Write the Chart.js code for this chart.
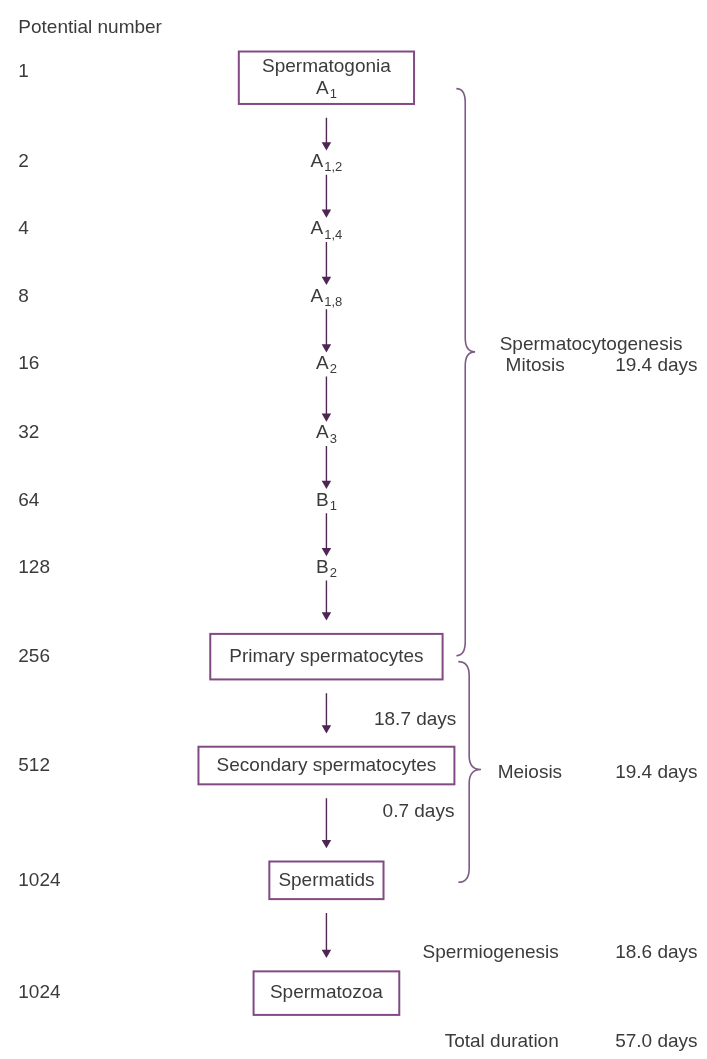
<!DOCTYPE html>
<html>
<head>
<meta charset="utf-8">
<script src="https://cdn.jsdelivr.net/npm/chart.js@4.4.1/dist/chart.umd.min.js"></script>
<style>
  html, body { margin: 0; padding: 0; background: #fff; }
  #wrap { width: 707px; height: 1059px; }
</style>
</head>
<body>
<div id="wrap"><canvas id="diagram" width="707" height="1059"></canvas></div>
<script>
// Data
const potentialNumbers = [1, 2, 4, 8, 16, 32, 64, 128, 256, 512, 1024, 1024];
const cellStages = ['Spermatogonia\nA', 'A', 'A', 'A', 'A', 'A', 'B', 'B',
    'Primary spermatocytes', 'Secondary spermatocytes', 'Spermatids', 'Spermatozoa'];
const stageSubscripts = ['1', '1,2', '1,4', '1,8', '2', '3', '1', '2', '', '', '', ''];
const phaseNames = ['Spermatocytogenesis', 'Meiosis', 'Spermiogenesis', 'Total duration'];
const phaseSubNames = ['Mitosis', '', '', ''];
const phaseDays = [19.4, 19.4, 18.6, 57.0];
const meiosisStepDays = [18.7, 0.7];

// Layout (diagram units = pixels of the original figure)
const rowY = [67, 158, 226, 294, 362, 432, 500, 568, 658, 768, 884, 998];
// [width, height, vertical offset of the box centre from the row]
const boxes = { 0: [178, 53, 6], 8: [236, 46, 0], 9: [260, 38, 0], 10: [116, 38, 0], 11: [148, 44, 0] };
const stemX = 326;
const numX = 13;

const TEXT = '#3b3b3b';
const BOX = '#824a82';
const ARROW = '#4d2652';
const BRACE = '#7e5a86';
const FONT = '"Liberation Sans", Arial, sans-serif';

function boxCenter(i) { return rowY[i] + boxes[i][2]; }
function rowTop(i) { return boxes[i] ? boxCenter(i) - boxes[i][1] / 2 : rowY[i] - 4; }
function rowBottom(i) { return boxes[i] ? boxCenter(i) + boxes[i][1] / 2 : rowY[i] + 4; }

// one small line dataset per arrow, head drawn as a rotated triangle point
const arrowDatasets = [];
for (let i = 0; i < rowY.length - 1; i++) {
    const y0 = rowBottom(i) + (boxes[i] ? 14 : 9);
    const y1 = rowTop(i + 1) - (boxes[i + 1] ? 19 : 13);
    arrowDatasets.push({
        data: [{ x: stemX, y: y0 }, { x: stemX, y: y1 }],
        showLine: true,
        borderColor: ARROW,
        borderWidth: 1.4,
        pointRadius: [0, 5.5],
        pointStyle: 'triangle',
        rotation: 180,
        pointBackgroundColor: ARROW,
        pointBorderColor: ARROW,
        pointBorderWidth: 0
    });
}

function drawBrace(ctx, px, py, x, yTop, yTip, yBot, hook, tip) {
    ctx.beginPath();
    ctx.moveTo(px(x - hook), py(yTop));
    ctx.quadraticCurveTo(px(x), py(yTop), px(x), py(yTop + 14));
    ctx.lineTo(px(x), py(yTip - 14));
    ctx.quadraticCurveTo(px(x), py(yTip), px(x + tip), py(yTip));
    ctx.quadraticCurveTo(px(x), py(yTip), px(x), py(yTip + 14));
    ctx.lineTo(px(x), py(yBot - 14));
    ctx.quadraticCurveTo(px(x), py(yBot), px(x - hook), py(yBot));
    ctx.stroke();
}

function drawStageLabel(ctx, cx, cy, main, sub) {
    ctx.font = '19px ' + FONT;
    const wMain = ctx.measureText(main).width;
    ctx.font = '13px ' + FONT;
    const wSub = sub ? ctx.measureText(sub).width + 1 : 0;
    const left = cx - (wMain + wSub) / 2;
    ctx.textAlign = 'left';
    ctx.font = '19px ' + FONT;
    ctx.fillText(main, left, cy);
    if (sub) {
        ctx.font = '13px ' + FONT;
        ctx.fillText(sub, left + wMain + 1, cy + 6);
    }
}

const diagramPlugin = {
    id: 'diagram',
    afterDatasetsDraw(chart) {
        const { ctx, scales: { x, y } } = chart;
        const px = v => x.getPixelForValue(v);
        const py = v => y.getPixelForValue(v);
        ctx.save();
        ctx.fillStyle = TEXT;
        ctx.textBaseline = 'middle';

        // left column
        ctx.font = '19px ' + FONT;
        ctx.textAlign = 'left';
        ctx.fillText('Potential number', px(numX), py(22));
        potentialNumbers.forEach((n, i) => ctx.fillText(String(n), px(numX), py(rowY[i])));

        // boxes and stage names
        cellStages.forEach((name, i) => {
            let yc = rowY[i];
            if (boxes[i]) {
                const [w, h] = boxes[i];
                yc = boxCenter(i);
                ctx.strokeStyle = BOX;
                ctx.lineWidth = 2;
                ctx.strokeRect(px(stemX - w / 2), py(yc - h / 2), px(w) - px(0), py(h) - py(0));
            }
            const lines = name.split('\n');
            if (lines.length === 2) {
                ctx.font = '19px ' + FONT;
                ctx.textAlign = 'center';
                ctx.fillText(lines[0], px(stemX), py(yc - 11));
                drawStageLabel(ctx, px(stemX), py(yc + 11), lines[1], stageSubscripts[i]);
            } else {
                drawStageLabel(ctx, px(stemX), py(yc), name, stageSubscripts[i]);
            }
        });

        // braces
        ctx.strokeStyle = BRACE;
        ctx.lineWidth = 1.6;
        drawBrace(ctx, px, py, 467, 84, 350, 657, 9, 10);
        drawBrace(ctx, px, py, 471, 663, 772, 886, 11, 12);

        // durations
        const days = d => d.toFixed(1) + ' days';
        ctx.font = '19px ' + FONT;
        ctx.textAlign = 'left';
        ctx.fillText(phaseNames[0], px(502), py(343));
        ctx.fillText(phaseSubNames[0], px(508), py(364));
        ctx.fillText(phaseNames[1], px(500), py(775));
        ctx.textAlign = 'right';
        ctx.fillText(days(phaseDays[0]), px(703), py(364));
        ctx.fillText(days(phaseDays[1]), px(703), py(775));
        ctx.fillText(phaseNames[2], px(562), py(957));
        ctx.fillText(days(phaseDays[2]), px(703), py(957));
        ctx.fillText(phaseNames[3], px(562), py(1047));
        ctx.fillText(days(phaseDays[3]), px(703), py(1047));
        ctx.fillText(days(meiosisStepDays[0]), px(458), py(722));
        ctx.fillText(days(meiosisStepDays[1]), px(456), py(815));
        ctx.restore();
    }
};

new Chart(document.getElementById('diagram'), {
    type: 'scatter',
    data: { datasets: arrowDatasets },
    options: {
        responsive: false,
        animation: false,
        events: [],
        layout: { padding: 0 },
        plugins: { legend: { display: false }, tooltip: { enabled: false } },
        scales: {
            x: { type: 'linear', min: 0, max: 707, display: false },
            y: { type: 'linear', min: 0, max: 1059, reverse: true, display: false }
        }
    },
    plugins: [diagramPlugin]
});
</script>
</body>
</html>
